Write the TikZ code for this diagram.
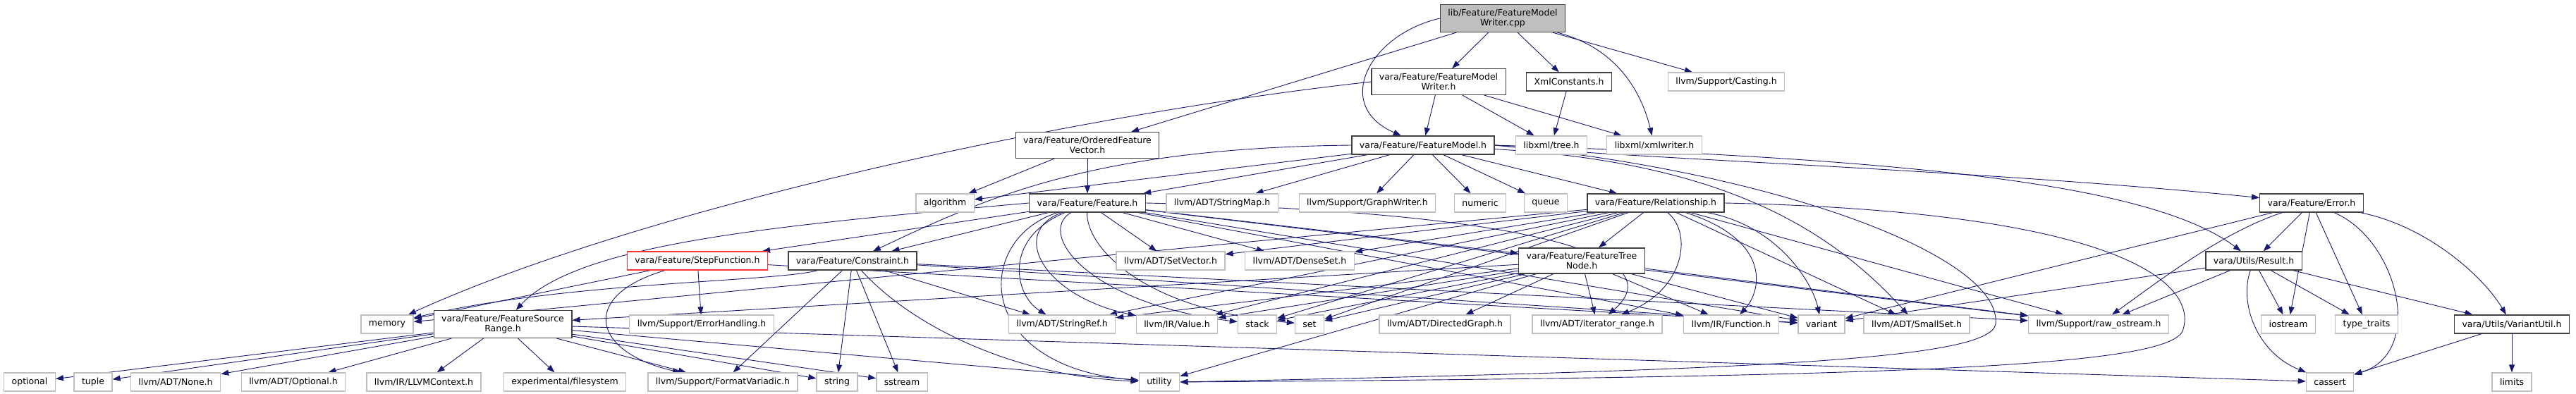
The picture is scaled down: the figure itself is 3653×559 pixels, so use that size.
\documentclass[tikz,border=0pt]{standalone}
\usepackage{fontspec}
\setmainfont{DejaVu Sans}
\usepackage{xcolor}
\usepackage{tikz}
\usetikzlibrary{arrows.meta}
\definecolor{edgeblue}{HTML}{191970}
\definecolor{boxgray}{HTML}{BFBFBF}
\definecolor{boxdark}{HTML}{404040}
\pgfdeclarelayer{background}
\pgfsetlayers{background,main}

\begin{document}
\begin{tikzpicture}[x=1pt, y=-1pt,
    font=\fontsize{12.5}{14}\selectfont,
    hdr/.style={draw=boxdark, line width=1.3pt, fill=white, inner xsep=11pt, inner ysep=6.5pt, minimum height=26pt, align=center},
    sys/.style={hdr, draw=boxgray},
    root/.style={hdr, fill=boxgray},
    cyc/.style={hdr, draw=red!80},
    dep/.style={draw=edgeblue, line width=0.9pt, -{Triangle[length=11pt,width=8pt]}}]
    \useasboundingbox (0,0) rectangle (3653,559);

    % Top file and its direct headers
    \node[root] (cpp) at (2131,26) {lib/Feature/FeatureModel\\Writer.cpp};
    \node[hdr] (fmwh) at (2040,116) {vara/Feature/FeatureModel\\Writer.h};
    \node[hdr] (xmlc) at (2225,116) {XmlConstants.h};
    \node[sys] (casting) at (2448,116) {llvm/Support/Casting.h};
    \node[hdr] (ofv) at (1542,206) {vara/Feature/OrderedFeature\\Vector.h};
    \node[hdr] (fmh) at (2018,206) {vara/Feature/FeatureModel.h};
    \node[sys] (tree) at (2200,206) {libxml/tree.h};
    \node[sys] (xmlw) at (2346,206) {libxml/xmlwriter.h};

    % Third row
    \node[sys] (algo) at (1340,288) {algorithm};
    \node[hdr] (feat) at (1542,288) {vara/Feature/Feature.h};
    \node[sys] (strmap) at (1733,288) {llvm/ADT/StringMap.h};
    \node[sys] (graphw) at (1939,288) {llvm/Support/GraphWriter.h};
    \node[sys] (numeric) at (2099,288) {numeric};
    \node[sys] (queue) at (2192,288) {queue};
    \node[hdr] (rel) at (2348,288) {vara/Feature/Relationship.h};
    \node[hdr] (err) at (3278,288) {vara/Feature/Error.h};

    % Fourth row
    \node[cyc] (stepf) at (989,370) {vara/Feature/StepFunction.h};
    \node[hdr] (constr) at (1209,370) {vara/Feature/Constraint.h};
    \node[sys] (setvec) at (1660,370) {llvm/ADT/SetVector.h};
    \node[sys] (denseset) at (1843,370) {llvm/ADT/DenseSet.h};
    \node[hdr] (ftn) at (2243,370) {vara/Feature/FeatureTree\\Node.h};
    \node[hdr] (result) at (3196,370) {vara/Utils/Result.h};

    % Fifth row
    \node[sys] (memory) at (549,460) {memory};
    \node[hdr] (fsr) at (713,460) {vara/Feature/FeatureSource\\Range.h};
    \node[sys] (errh) at (995,460) {llvm/Support/ErrorHandling.h};
    \node[sys] (strref) at (1506,460) {llvm/ADT/StringRef.h};
    \node[sys] (value) at (1669,460) {llvm/IR/Value.h};
    \node[sys] (stack) at (1783,460) {stack};
    \node[sys] (set) at (1857,460) {set};
    \node[sys] (dgraph) at (2049,460) {llvm/ADT/DirectedGraph.h};
    \node[sys] (itrange) at (2265,460) {llvm/ADT/iterator\_range.h};
    \node[sys] (func) at (2455,460) {llvm/IR/Function.h};
    \node[sys] (variant) at (2583,460) {variant};
    \node[sys] (smallset) at (2718,460) {llvm/ADT/SmallSet.h};
    \node[sys] (rawos) at (2976,460) {llvm/Support/raw\_ostream.h};
    \node[sys] (iostream) at (3245,460) {iostream};
    \node[sys] (typetr) at (3356,460) {type\_traits};
    \node[hdr] (varutil) at (3562,460) {vara/Utils/VariantUtil.h};

    % Bottom row
    \node[sys] (optional) at (42,542) {optional};
    \node[sys] (tuple) at (132,542) {tuple};
    \node[sys] (none) at (249,542) {llvm/ADT/None.h};
    \node[sys] (optionalh) at (416,542) {llvm/ADT/Optional.h};
    \node[sys] (llvmctx) at (601,542) {llvm/IR/LLVMContext.h};
    \node[sys] (fs) at (801,542) {experimental/filesystem};
    \node[sys] (fmtvar) at (1025,542) {llvm/Support/FormatVariadic.h};
    \node[sys] (string) at (1187,542) {string};
    \node[sys] (sstream) at (1279,542) {sstream};
    \node[sys] (utility) at (1644,542) {utility};
    \node[sys] (cassert) at (3304,542) {cassert};
    \node[sys] (limits) at (3562,542) {limits};

    \begin{pgfonlayer}{background}
    % Straight includes
    \foreach \a/\b in {cpp/fmwh, cpp/xmlc, cpp/casting, cpp/ofv,
        fmwh/fmh, fmwh/tree, fmwh/xmlw, xmlc/tree, ofv/algo, ofv/feat,
        fmh/feat, fmh/algo, fmh/strmap, fmh/graphw, fmh/numeric, fmh/queue, fmh/rel,
        feat/constr, feat/stepf, feat/setvec, feat/denseset, feat/ftn, feat/func, feat/variant, feat/rawos,
        rel/ftn, rel/smallset, rel/rawos, rel/strref, rel/value, rel/stack, rel/set, rel/setvec, rel/denseset, rel/memory,
        ftn/dgraph, ftn/itrange, ftn/func, ftn/variant, ftn/rawos, ftn/strref, ftn/value, ftn/stack, ftn/set, ftn/utility, ftn/fsr,
        constr/strref, constr/fmtvar, constr/string, constr/sstream, constr/variant, constr/rawos,
        stepf/errh, stepf/memory, stepf/variant,
        fsr/optional, fsr/tuple, fsr/none, fsr/optionalh, fsr/llvmctx, fsr/fs, fsr/fmtvar, fsr/string, fsr/sstream, fsr/utility, fsr/cassert,
        err/result, err/iostream, err/typetr, err/variant,
        result/rawos, result/iostream, result/typetr, result/variant, result/varutil,
        varutil/cassert, varutil/limits}
        \draw[dep] (\a) -- (\b);

    % Curved includes
    \draw[dep] (cpp.west) .. controls (1940,50) and (1890,150) .. (fmh);
    \draw[dep] (cpp) .. controls (2300,70) and (2330,140) .. (xmlw);
    \draw[dep] (fmwh.west) .. controls (1500,165) and (900,300) .. (memory);
    \draw[dep] (fmh.west) .. controls (1550,210) and (1400,280) .. (constr);
    \draw[dep] (fmh.east) .. controls (2300,225) and (2800,240) .. (err);
    \draw[dep] (fmh.east) .. controls (2700,225) and (3050,260) .. (result);
    \draw[dep] (fmh) .. controls (2450,230) and (2600,330) .. (smallset);
    \draw[dep] (fmh.east) .. controls (2500,240) and (2840,360) .. (2830,460)
        .. controls (2820,510) and (2500,525) .. (utility.east);
    \draw[dep] (feat.west) .. controls (1100,320) and (820,345) .. (fsr);
    \draw[dep] (feat) .. controls (1420,340) and (1440,420) .. (strref);
    \draw[dep] (feat) .. controls (1430,330) and (1480,420) .. (value);
    \draw[dep] (feat) .. controls (1470,330) and (1540,430) .. (stack);
    \draw[dep] (feat) .. controls (1540,350) and (1620,440) .. (set);
    \draw[dep] (feat) .. controls (1380,340) and (1380,520) .. (utility);
    \draw[dep] (feat.east) .. controls (2150,300) and (2380,360) .. (itrange);
    \draw[dep] (rel) .. controls (2400,330) and (2390,410) .. (itrange);
    \draw[dep] (rel) .. controls (2510,340) and (2500,410) .. (func);
    \draw[dep] (rel) .. controls (2520,320) and (2570,400) .. (variant);
    \draw[dep] (rel.east) .. controls (3000,300) and (3120,400) .. (3095,470)
        .. controls (3070,520) and (2700,535) .. (utility.east);
    \draw[dep] (constr) .. controls (1100,400) and (800,400) .. (memory);
    \draw[dep] (constr) .. controls (1300,470) and (1450,535) .. (utility);
    \draw[dep] (stepf) .. controls (820,420) and (840,500) .. (fmtvar);
    \draw[dep] (err) .. controls (3150,330) and (3060,400) .. (rawos);
    \draw[dep] (err) .. controls (3440,320) and (3520,390) .. (varutil);
    \draw[dep] (err) .. controls (3400,340) and (3440,500) .. (cassert);
    \draw[dep] (result) .. controls (3175,430) and (3200,500) .. (cassert);
    \end{pgfonlayer}
\end{tikzpicture}
\end{document}
